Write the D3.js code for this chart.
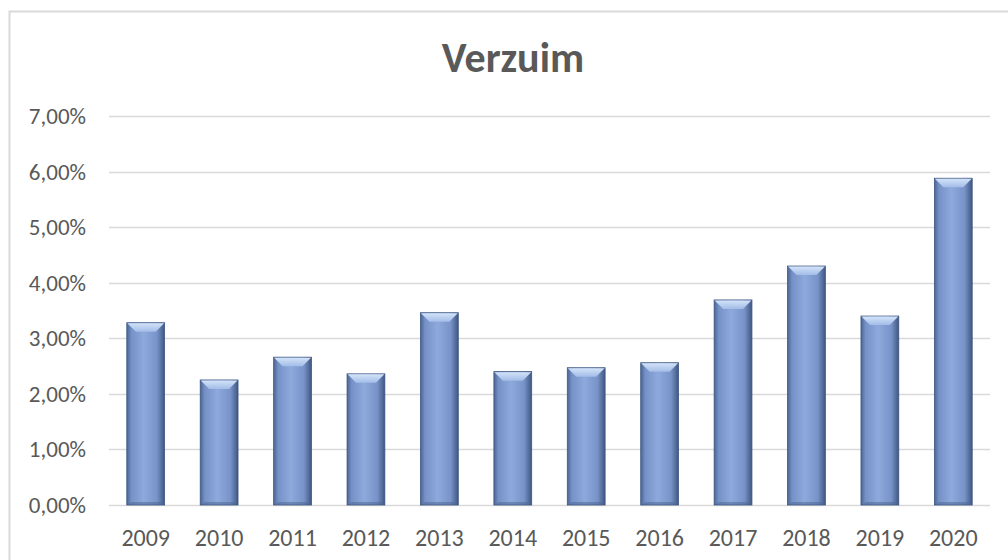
<!DOCTYPE html>
<html>
<head>
<meta charset="utf-8">
<script src="https://cdn.jsdelivr.net/npm/d3@7"></script>
<style>
  body { margin: 0; background: #fff; }
  svg { display: block; }
</style>
</head>
<body>
<svg id="chart"></svg>
<script>
const years = ["2009", "2010", "2011", "2012", "2013", "2014", "2015", "2016", "2017", "2018", "2019", "2020"];
const verzuim = [3.28, 2.25, 2.66, 2.36, 3.46, 2.40, 2.47, 2.56, 3.69, 4.30, 3.40, 5.88];
const yTicks = [0, 1, 2, 3, 4, 5, 6, 7];

const W = 1008, H = 560;
const plotLeft = 109, plotRight = 990, plotTop = 116, plotBottom = 505;
const font = "Carlito, Calibri, 'Open Sans', sans-serif";

const svg = d3.select("#chart").attr("width", W).attr("height", H);

// gradients for the bevelled bars
const defs = svg.append("defs");
const grad = defs.append("linearGradient").attr("id", "barGrad")
  .attr("x1", "0").attr("x2", "1").attr("y1", "0").attr("y2", "0");
grad.append("stop").attr("offset", "0%").attr("stop-color", "#4a6595");
grad.append("stop").attr("offset", "12%").attr("stop-color", "#7591c6");
grad.append("stop").attr("offset", "45%").attr("stop-color", "#8ea9dc");
grad.append("stop").attr("offset", "80%").attr("stop-color", "#7893c8");
grad.append("stop").attr("offset", "100%").attr("stop-color", "#3f5782");
const topGrad = defs.append("linearGradient").attr("id", "topGrad")
  .attr("x1", "0").attr("x2", "0").attr("y1", "0").attr("y2", "1");
topGrad.append("stop").attr("offset", "0%").attr("stop-color", "#d3e3f8");
topGrad.append("stop").attr("offset", "100%").attr("stop-color", "#a3bde8");

// chart frame
svg.append("rect").attr("x", 9.5).attr("y", 11.5).attr("width", W).attr("height", H)
  .attr("fill", "none").attr("stroke", "#d9d9d9").attr("stroke-width", 2);

const x = d3.scaleBand().domain(years).range([plotLeft, plotRight]).paddingInner(0.485).paddingOuter(0.2425);
const y = d3.scaleLinear().domain([0, 7]).range([plotBottom, plotTop]);

// gridlines
svg.append("g").selectAll("line").data(yTicks).join("line")
  .attr("x1", plotLeft).attr("x2", plotRight)
  .attr("y1", d => Math.round(y(d)) + 0.5).attr("y2", d => Math.round(y(d)) + 0.5)
  .attr("stroke", "#d9d9d9").attr("stroke-width", 1.5);

// y axis labels
svg.append("g").selectAll("text").data(yTicks).join("text")
  .attr("x", 86).attr("y", d => y(d)).attr("dy", "0.35em")
  .attr("text-anchor", "end")
  .attr("font-family", font).attr("font-size", 23).attr("fill", "#595959")
  .text(d => d.toFixed(2).replace(".", ",") + "%");

// x axis labels
svg.append("g").selectAll("text").data(years).join("text")
  .attr("x", d => x(d) + x.bandwidth() / 2).attr("y", 546)
  .attr("text-anchor", "middle")
  .attr("font-family", font).attr("font-size", 24).attr("fill", "#595959")
  .text(d => d);

// bars
const bars = svg.append("g").selectAll("g").data(years.map((yr, i) => ({ yr, v: verzuim[i] }))).join("g");
bars.append("rect")
  .attr("x", d => x(d.yr)).attr("y", d => y(d.v))
  .attr("width", x.bandwidth()).attr("height", d => plotBottom - y(d.v))
  .attr("fill", "url(#barGrad)")
  .attr("stroke", "#3d5580").attr("stroke-width", 0.8);
// top bevel highlight
const bev = 9, bevBottom = 3;
bars.append("polygon")
  .attr("points", d => {
    const x0 = x(d.yr), x1 = x0 + x.bandwidth(), y0 = y(d.v);
    return [[x0 + 0.5, y0 + 0.5], [x1 - 0.5, y0 + 0.5], [x1 - bev, y0 + bev], [x0 + bev, y0 + bev]].join(" ");
  })
  .attr("fill", "url(#topGrad)");
// bottom shade
bars.append("polygon")
  .attr("points", d => {
    const x0 = x(d.yr), x1 = x0 + x.bandwidth();
    return [[x0 + 0.5, plotBottom], [x1 - 0.5, plotBottom], [x1 - bevBottom - 2, plotBottom - bevBottom], [x0 + bevBottom + 2, plotBottom - bevBottom]].join(" ");
  })
  .attr("fill", "#4a6392").attr("opacity", 0.5);

// title
svg.append("text")
  .attr("x", 513).attr("y", 72)
  .attr("text-anchor", "middle")
  .attr("font-family", font).attr("font-weight", "bold").attr("font-size", 42).attr("fill", "#595959")
  .text("Verzuim");
</script>
</body>
</html>
